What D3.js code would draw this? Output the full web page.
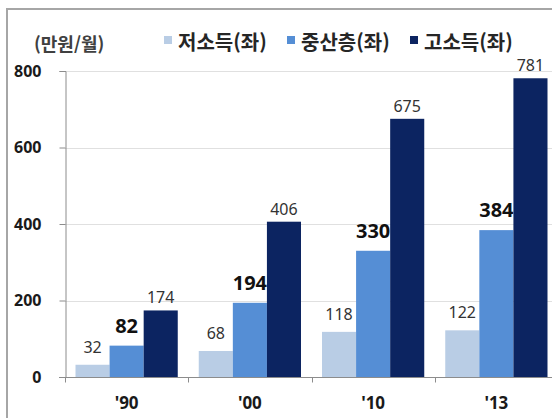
<!DOCTYPE html>
<html lang="ko">
<head>
<meta charset="utf-8">
<script src="https://d3js.org/d3.v7.min.js"></script>
<style type="text/css">
body {
	margin: 0;
	background-color: #ffffff;
	font-family: "Noto Sans CJK KR", "Noto Sans", sans-serif;
}
</style>
</head>
<body>
<div id="chart"></div>
<script type="text/javascript">

	// data
	var years = ["'90", "'00", "'10", "'13"];
	var seriesNames = ["저소득(좌)", "중산층(좌)", "고소득(좌)"];
	var lowIncome = [32, 68, 118, 122];
	var middleClass = [82, 194, 330, 384];
	var highIncome = [174, 406, 675, 781];
	var yTicks = [0, 200, 400, 600, 800];
	var unitLabel = "(만원/월)";

	var colors = ["#b9cde5", "#558ed5", "#0c2461"];

	var width = 552;
	var height = 418;

	var svg = d3.select("#chart")
	  .append("svg")
	  .attr("width", width)
	  .attr("height", height);

	// outer frame (cropped at right / bottom)
	svg.append("path")
	  .attr("d", "M7," + height + "V9H" + width)
	  .attr("fill", "none")
	  .attr("stroke", "#a6a6a6")
	  .attr("stroke-width", 2);

	// plot area (right edge runs past the picture)
	var plotL = 65, plotR = 558, plotT = 71, plotB = 377;

	var y = d3.scaleLinear().domain([0, 800]).range([plotB, plotT]);

	var x = d3.scaleBand().domain(years).range([plotL, plotR]).padding(0);
	var xs = d3.scaleBand().domain(d3.range(3))
	  .range([10.5, x.bandwidth() - 10.5]).padding(0);

	// gridlines
	svg.append("g")
	  .selectAll("line")
	  .data(yTicks.slice(1))
	  .enter()
	  .append("line")
	  .attr("x1", plotL)
	  .attr("x2", width)
	  .attr("y1", function(d) { return Math.round(y(d)) + 0.5; })
	  .attr("y2", function(d) { return Math.round(y(d)) + 0.5; })
	  .attr("stroke", "#e0e0e0")
	  .attr("stroke-width", 1);

	// y axis
	var yAxis = svg.append("g")
	  .attr("transform", "translate(" + (plotL + 0.5) + ",0)")
	  .call(d3.axisLeft(y).tickValues(yTicks).tickSize(6).tickPadding(18).tickFormat(d3.format("d")));
	yAxis.select(".domain").attr("stroke", "#8c8c8c");
	yAxis.selectAll(".tick line").attr("stroke", "#8c8c8c");
	yAxis.selectAll("text")
	  .attr("font-family", "'Noto Sans', sans-serif")
	  .attr("font-size", 16)
	  .attr("font-weight", "bold")
	  .attr("fill", "#1a1a1a");

	// x axis
	var xAxis = svg.append("g")
	  .attr("transform", "translate(0," + (plotB + 0.5) + ")");
	xAxis.append("line")
	  .attr("x1", plotL - 6).attr("x2", width)
	  .attr("stroke", "#8c8c8c");
	xAxis.selectAll(".tk")
	  .data(years)
	  .enter()
	  .append("line")
	  .attr("class", "tk")
	  .attr("x1", function(d) { return Math.round(x(d)) + 0.5; })
	  .attr("x2", function(d) { return Math.round(x(d)) + 0.5; })
	  .attr("y1", 0).attr("y2", 5)
	  .attr("stroke", "#8c8c8c");
	xAxis.selectAll("text")
	  .data(years)
	  .enter()
	  .append("text")
	  .attr("x", function(d) { return x(d) + x.bandwidth() / 2; })
	  .attr("y", 31)
	  .attr("text-anchor", "middle")
	  .attr("font-family", "'Noto Sans', sans-serif")
	  .attr("font-size", 17)
	  .attr("font-weight", "bold")
	  .attr("fill", "#1a1a1a")
	  .text(function(d) { return d; });

	// bars
	var seriesData = [lowIncome, middleClass, highIncome];
	var labelStyle = [
	  { size: 16, weight: "normal", gap: 12 },
	  { size: 20, weight: "bold", gap: 13 },
	  { size: 16, weight: "normal", gap: 7 }
	];

	seriesData.forEach(function(vals, s) {
	  var g = svg.append("g");
	  g.selectAll("rect")
	    .data(vals)
	    .enter()
	    .append("rect")
	    .attr("x", function(d, i) { return x(years[i]) + xs(s); })
	    .attr("y", function(d) { return y(d); })
	    .attr("width", xs.bandwidth())
	    .attr("height", function(d) { return plotB - y(d); })
	    .attr("fill", colors[s]);

	  g.selectAll("text")
	    .data(vals)
	    .enter()
	    .append("text")
	    .attr("x", function(d, i) { return x(years[i]) + xs(s) + xs.bandwidth() / 2; })
	    .attr("y", function(d) { return y(d) - labelStyle[s].gap; })
	    .attr("text-anchor", "middle")
	    .attr("font-family", "'Noto Sans', sans-serif")
	    .attr("font-size", labelStyle[s].size)
	    .attr("font-weight", labelStyle[s].weight)
	    .attr("fill", s == 1 ? "#111" : "#333")
	    .text(function(d) { return d; });
	});

	// unit label
	svg.append("text")
	  .attr("x", 34)
	  .attr("y", 51)
	  .attr("font-size", 18)
	  .attr("font-weight", "bold")
	  .attr("fill", "#404040")
	  .text(unitLabel);

	// legend
	var legendX = [164, 287, 410];
	var legend = svg.append("g");
	seriesNames.forEach(function(name, i) {
	  legend.append("rect")
	    .attr("x", legendX[i])
	    .attr("y", 36)
	    .attr("width", 8)
	    .attr("height", 8)
	    .attr("fill", colors[i]);
	  legend.append("text")
	    .attr("x", legendX[i] + 14)
	    .attr("y", 50)
	    .attr("font-size", 20)
	    .attr("font-weight", "bold")
	    .attr("fill", "#262626")
	    .text(name);
	});

</script>
</body>
</html>
